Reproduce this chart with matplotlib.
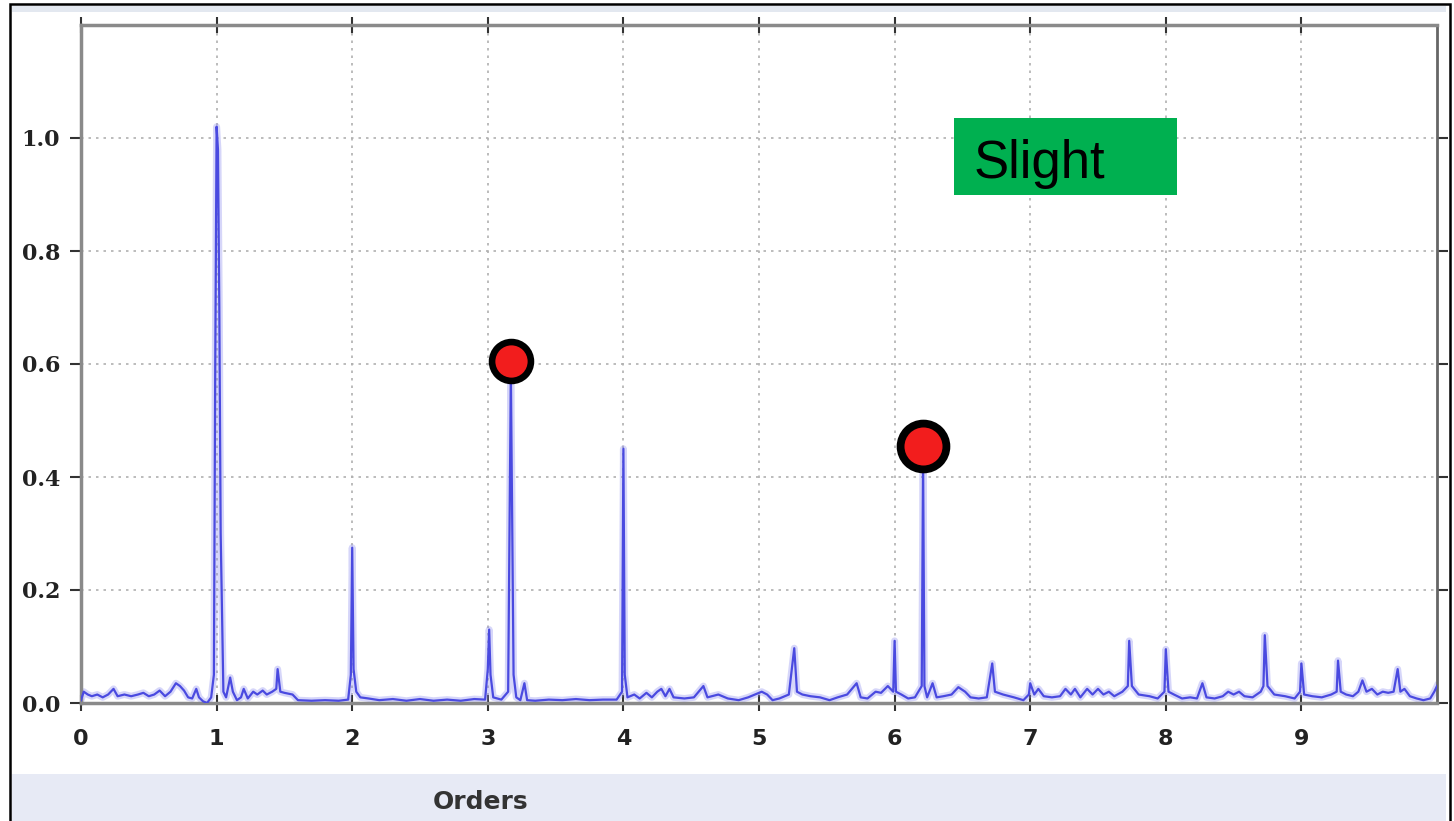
import matplotlib
matplotlib.use("Agg")
import matplotlib.pyplot as plt
from matplotlib.patches import Rectangle

# ---------------- data ----------------
orders = [
    0.00, 0.02, 0.05, 0.08, 0.12, 0.16, 0.20, 0.24, 0.27, 0.32, 0.37, 0.42, 0.46, 0.50,
    0.54, 0.58, 0.62, 0.66, 0.70, 0.73, 0.76, 0.79, 0.82, 0.85, 0.87, 0.90, 0.93, 0.96,
    0.98, 0.99, 1.00, 1.01, 1.02, 1.03, 1.05, 1.07, 1.10, 1.12, 1.15, 1.18, 1.20, 1.23,
    1.27, 1.30, 1.34, 1.37, 1.41, 1.44, 1.45, 1.47, 1.50, 1.56, 1.60, 1.70, 1.80, 1.90,
    1.97, 1.99, 2.00, 2.01, 2.03, 2.06, 2.12, 2.20, 2.30, 2.40, 2.50, 2.60, 2.70, 2.80,
    2.90, 2.98, 3.00, 3.01, 3.02, 3.04, 3.10, 3.15, 3.17, 3.19, 3.21, 3.24, 3.27, 3.29,
    3.35, 3.45, 3.55, 3.65, 3.75, 3.85, 3.95, 3.99, 4.00, 4.01, 4.03, 4.08, 4.12, 4.17,
    4.21, 4.25, 4.28, 4.31, 4.34, 4.37, 4.45, 4.52, 4.59, 4.62, 4.70, 4.77, 4.85, 4.92,
    4.97, 5.02, 5.06, 5.10, 5.15, 5.22, 5.26, 5.28, 5.32, 5.38, 5.45, 5.52, 5.58, 5.65,
    5.72, 5.75, 5.80, 5.86, 5.90, 5.95, 5.99, 6.00, 6.01, 6.05, 6.10, 6.15, 6.20, 6.21,
    6.22, 6.24, 6.28, 6.31, 6.36, 6.42, 6.47, 6.52, 6.56, 6.62, 6.68, 6.72, 6.74, 6.80,
    6.88, 6.95, 6.99, 7.00, 7.03, 7.06, 7.10, 7.16, 7.22, 7.26, 7.30, 7.33, 7.37, 7.42,
    7.46, 7.50, 7.54, 7.58, 7.62, 7.68, 7.72, 7.73, 7.75, 7.80, 7.88, 7.94, 7.99, 8.00,
    8.02, 8.06, 8.12, 8.18, 8.23, 8.27, 8.30, 8.36, 8.42, 8.46, 8.50, 8.54, 8.58, 8.64,
    8.70, 8.72, 8.73, 8.75, 8.80, 8.88, 8.95, 8.99, 9.00, 9.02, 9.08, 9.15, 9.22, 9.26,
    9.27, 9.29, 9.33, 9.38, 9.42, 9.45, 9.48, 9.52, 9.56, 9.60, 9.64, 9.68, 9.71, 9.73,
    9.76, 9.80, 9.85, 9.90, 9.95, 9.98, 10.00,
]
amplitude = [
    0.005, 0.020, 0.015, 0.012, 0.015, 0.010, 0.015, 0.025, 0.012, 0.015, 0.012, 0.015, 0.018, 0.012,
    0.015, 0.022, 0.012, 0.020, 0.035, 0.030, 0.022, 0.010, 0.008, 0.025, 0.010, 0.003, 0.000, 0.010,
    0.050, 0.600, 1.020, 0.980, 0.700, 0.300, 0.020, 0.010, 0.045, 0.020, 0.005, 0.010, 0.025, 0.008,
    0.020, 0.015, 0.022, 0.015, 0.020, 0.025, 0.060, 0.020, 0.018, 0.015, 0.005, 0.004, 0.005, 0.004,
    0.006, 0.050, 0.275, 0.060, 0.020, 0.010, 0.008, 0.005, 0.007, 0.004, 0.007, 0.004, 0.006, 0.004,
    0.007, 0.006, 0.060, 0.130, 0.050, 0.010, 0.006, 0.020, 0.585, 0.050, 0.010, 0.005, 0.035, 0.005,
    0.004, 0.006, 0.005, 0.007, 0.005, 0.006, 0.006, 0.020, 0.450, 0.050, 0.010, 0.015, 0.008, 0.018,
    0.010, 0.020, 0.025, 0.012, 0.025, 0.010, 0.008, 0.010, 0.030, 0.010, 0.015, 0.008, 0.005, 0.010,
    0.015, 0.020, 0.015, 0.005, 0.008, 0.015, 0.097, 0.020, 0.015, 0.012, 0.010, 0.005, 0.010, 0.015,
    0.035, 0.010, 0.008, 0.020, 0.018, 0.030, 0.020, 0.110, 0.020, 0.015, 0.008, 0.010, 0.030, 0.430,
    0.030, 0.010, 0.035, 0.010, 0.012, 0.015, 0.028, 0.020, 0.010, 0.008, 0.010, 0.070, 0.020, 0.015,
    0.010, 0.005, 0.015, 0.035, 0.015, 0.025, 0.012, 0.010, 0.012, 0.025, 0.015, 0.025, 0.010, 0.025,
    0.015, 0.025, 0.015, 0.020, 0.012, 0.020, 0.030, 0.110, 0.030, 0.015, 0.012, 0.008, 0.020, 0.095,
    0.020, 0.015, 0.008, 0.010, 0.008, 0.035, 0.010, 0.008, 0.012, 0.020, 0.015, 0.020, 0.012, 0.010,
    0.020, 0.030, 0.120, 0.030, 0.015, 0.012, 0.008, 0.020, 0.070, 0.015, 0.012, 0.010, 0.015, 0.020,
    0.075, 0.020, 0.015, 0.012, 0.020, 0.040, 0.020, 0.025, 0.015, 0.020, 0.018, 0.020, 0.060, 0.020,
    0.025, 0.012, 0.008, 0.005, 0.008, 0.020, 0.030,
]
marker_orders = [3.17, 6.21]
marker_values = [0.605, 0.455]
marker_sizes = [28, 33]

x_ticks = [0, 1, 2, 3, 4, 5, 6, 7, 8, 9]
y_ticks = [0.0, 0.2, 0.4, 0.6, 0.8, 1.0]
x_label = "Orders"
badge_text = "Slight"

# ---------------- figure ----------------
W, H = 1454, 821
fig = plt.figure(figsize=(W / 100, H / 100), dpi=100)
fig.patch.set_facecolor("white")

# window-like decorations
fig.add_artist(Rectangle((12 / W, 1 - 12 / H), (1446 - 12) / W, 6 / H,
                         transform=fig.transFigure, facecolor="#e3e8f0",
                         edgecolor="none", zorder=0))
fig.add_artist(Rectangle((12 / W, 0), (1446 - 12) / W, (821 - 774) / H,
                         transform=fig.transFigure, facecolor="#e7eaf5",
                         edgecolor="none", zorder=0))
fig.add_artist(Rectangle((10 / W, -0.02), (1450 - 10) / W, 1.02 - 4 / H,
                         transform=fig.transFigure, facecolor="none",
                         edgecolor="black", linewidth=1.8, zorder=5))

ax = fig.add_axes([81 / W, 1 - 703 / H, (1437 - 81) / W, (703 - 25) / H])
ax.set_xlim(0, 10)
ax.set_ylim(0, 1.2)

# spectrum: soft halo + line
ax.plot(orders, amplitude, color="#8c8cf0", linewidth=5.0, alpha=0.35,
        solid_joinstyle="round", zorder=2)
ax.plot(orders, amplitude, color="#4a4ae0", linewidth=1.6, zorder=3)

# highlighted peaks
for xo, yv, ms in zip(marker_orders, marker_values, marker_sizes):
    ax.plot([xo], [yv], marker="o", markersize=ms, markerfacecolor="#f21d1d",
            markeredgecolor="black", markeredgewidth=ms * 0.17, zorder=6,
            linestyle="none")

# ticks & grid
ax.set_xticks(x_ticks)
ax.set_yticks(y_ticks)
ax.set_xticklabels([str(v) for v in x_ticks], fontweight="bold",
                   fontfamily="DejaVu Sans", fontsize=16, color="#222222")
ax.set_yticklabels([f"{v:.1f}" for v in y_ticks], fontweight="bold",
                   fontfamily="DejaVu Serif", fontsize=16, color="#222222")
ax.tick_params(axis="x", direction="inout", length=12, width=1.5,
               pad=13, colors="#333333", top=True)
ax.tick_params(axis="y", direction="out", length=8, width=1.5,
               pad=7, colors="#333333", right=True)
ax.tick_params(axis="x", labelcolor="#222222")
ax.tick_params(axis="y", labelcolor="#222222")
ax.grid(True, color="#b0b0b0", linestyle=(0, (1.5, 3)), linewidth=1.2)
ax.set_axisbelow(True)

for side in ["left", "bottom", "top"]:
    ax.spines[side].set_color("#8a8a8a")
    ax.spines[side].set_linewidth(2.5)
ax.spines["right"].set_color("#666666")
ax.spines["right"].set_linewidth(2.0)

# x label in bottom band
fig.text(481 / W, 1 - 802 / H, x_label, ha="center", va="center",
         fontsize=18, fontweight="bold", color="#333333",
         fontfamily="DejaVu Sans")

# green badge
fig.add_artist(Rectangle((954 / W, 1 - 195 / H), (1177 - 954) / W, (195 - 118) / H,
                         transform=fig.transFigure, facecolor="#00b050",
                         edgecolor="none", zorder=7))
fig.text(974 / W, 1 - 178 / H, badge_text, ha="left", va="baseline",
         fontsize=38, color="black", fontfamily="Liberation Sans", zorder=8)

fig.savefig("out.png", dpi=100)
